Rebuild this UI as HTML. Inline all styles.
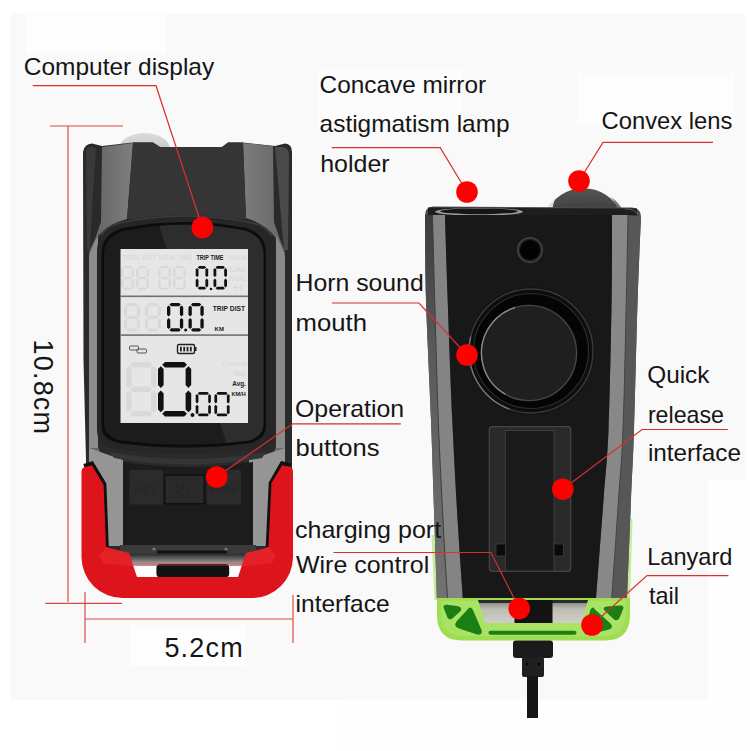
<!DOCTYPE html>
<html><head><meta charset="utf-8">
<style>
html,body{margin:0;padding:0;background:#fafafa;width:750px;height:751px;overflow:hidden}
svg{position:absolute;left:0;top:0;display:block}
text{font-family:"Liberation Sans",sans-serif}
</style></head>
<body>
<svg width="750" height="751" viewBox="0 0 750 751">
<defs>
  <linearGradient id="gpanel" x1="0" y1="0" x2="1" y2="0">
    <stop offset="0" stop-color="#626262"/><stop offset="1" stop-color="#7e7e7e"/>
  </linearGradient>
  <linearGradient id="gpanel2" x1="0" y1="0" x2="1" y2="0">
    <stop offset="0" stop-color="#7c7c7c"/><stop offset="1" stop-color="#666"/>
  </linearGradient>
  <linearGradient id="gmetal" x1="0" y1="0" x2="0" y2="1">
    <stop offset="0" stop-color="#2a2a2a"/><stop offset="1" stop-color="#bbbbbb"/>
  </linearGradient>
  <linearGradient id="gside" x1="0" y1="0" x2="1" y2="0">
    <stop offset="0" stop-color="#6e6e6e"/><stop offset="1" stop-color="#8a8a8a"/>
  </linearGradient>
  <linearGradient id="gside2" x1="0" y1="0" x2="1" y2="0">
    <stop offset="0" stop-color="#8c8c8c"/><stop offset="1" stop-color="#7a7a7a"/>
  </linearGradient>
  <linearGradient id="gouterL" x1="0" y1="0" x2="0" y2="1">
    <stop offset="0" stop-color="#3c3c3c"/><stop offset="0.35" stop-color="#5a5a5a"/><stop offset="1" stop-color="#727272"/>
  </linearGradient>
  <linearGradient id="gdome2" x1="0" y1="0" x2="0" y2="1">
    <stop offset="0" stop-color="#555"/><stop offset="1" stop-color="#3e3e3e"/>
  </linearGradient>
  <linearGradient id="grecess" x1="0" y1="0" x2="0" y2="1">
    <stop offset="0" stop-color="#7a7a74"/><stop offset="0.4" stop-color="#bdbdb5"/><stop offset="1" stop-color="#cfcfc8"/>
  </linearGradient>
  <linearGradient id="gdome" x1="0" y1="0" x2="0" y2="1">
    <stop offset="0" stop-color="#dcdcdc"/><stop offset="0.6" stop-color="#c4c4c4"/><stop offset="1" stop-color="#a0a0a0"/>
  </linearGradient>
  <linearGradient id="gred" x1="0" y1="0" x2="0" y2="1">
    <stop offset="0" stop-color="#e0202a"/><stop offset="1" stop-color="#d61a22"/>
  </linearGradient>
</defs>
<!-- background -->
<rect x="0" y="0" width="750" height="751" fill="#ffffff"/>
<rect x="10" y="13" width="735" height="687" fill="#f9f9f9"/>
<rect x="340" y="700" width="410" height="51" fill="#fefefe"/>
<rect x="708" y="480" width="42" height="235" fill="#fefefe"/>
<rect x="26" y="13" width="140" height="40" fill="#fdfdfd"/>
<rect x="318" y="70" width="144" height="57" fill="#fcfcfc"/>
<rect x="577" y="73" width="158" height="52" fill="#fdfdfd"/>
<rect x="130" y="625" width="115" height="41" fill="#fdfdfd"/>

<!-- ============ LEFT DEVICE ============ -->
<!-- dome behind -->
<ellipse cx="144.5" cy="150" rx="26" ry="17" fill="url(#gdome)"/>

<!-- body -->
<path d="M83,152 Q84,144 92,143.5 L102,146 L133,142.6 L153,142.6 L160,147 L222,147 L228,142.6 L243,142.6 L275,146 L285,143.5 Q292,144 292,152 L292,560 L86,560 L86,460 L83.5,360 Z" fill="#2a2a2a"/>
<path d="M275,147 L283,147 Q289,148 289,156 L288,250 L284,250 Z" fill="#4a4a4a"/>
<path d="M86,150 Q87,147 92,147 L96,148 Q92,200 90,250 L87,250 Z" fill="#3a3a3a"/>
<!-- left gray panel -->
<path d="M102,147 L133,143 L127,219 Q108,224 98,236 L98,445 Q98,452 104,455 L123,462 L123,546 L89,546 L89,252 Q96,238 101,222 Z" fill="url(#gpanel)"/>
<!-- right gray panel -->
<path d="M243,143 L273,146 L274,222 Q279,238 285,252 L285,546 L249,546 L249,462 L270,455 Q276,452 276,445 L276,238 Q266,224 246,218 Z" fill="url(#gpanel2)"/>
<path d="M89,448 L123,460 L123,546 L89,546 Z" fill="#959595"/>
<path d="M285,448 L249,460 L249,546 L285,546 Z" fill="#959595"/>
<path d="M89,256 Q93,244 98,236 L98,448 L89,448 Z" fill="#8c8c8c"/>
<path d="M285,256 Q281,244 276,236 L276,448 L285,448 Z" fill="#8a8a8a"/>
<!-- center top -->
<path d="M133,142.6 L153,142.6 L160,147 L222,147 L228,142.6 L243,142.6 L246,219 L127,219 Z" fill="#353535"/>
<!-- bezel -->
<path d="M97,252 Q97,228 120,222 Q186,208 252,222 Q276,228 276,252 L276,430 Q276,445 258,449 Q186,459 115,449 Q97,445 97,430 Z" fill="#262626"/>
<path d="M101,236 Q106,226 120,223 Q186,209 252,223 Q266,226 272,236" fill="none" stroke="#3c3c3c" stroke-width="1.5"/>
<path d="M101.5,254 Q101.5,234 123,228 Q186,216 246,228 Q266,234 266,254 L266,426 Q266,439 250,443 Q186,452 118,443 Q101.5,439 101.5,426 Z" fill="#0c0c0c"/>
<clipPath id="cframe"><path d="M104,255 Q104,236 125,230.5 Q186,219 245,230.5 Q263.5,236 263.5,255 L263.5,424 Q263.5,436 249,440.5 Q186,449 120,440.5 Q104,436 104,424 Z"/></clipPath>
<g clip-path="url(#cframe)">
<rect x="100" y="215" width="180" height="240" fill="#1c1c1c"/>
<path d="M156,215 L290,215 L290,455 L230,455 Z" fill="#2d2d2d"/>
</g>
<!-- ledge below bezel -->
<path d="M110,452 Q188,466 266,452 L262,458 Q188,471 114,458 Z" fill="#353535"/>
<!-- lower body -->
<path d="M123,462 Q188,472 253,462 L253,546 L123,546 Z" fill="#1c1c1c"/>
<!-- buttons -->
<rect x="129.3" y="470" width="33.7" height="34.5" rx="1.5" fill="#2b2b2b"/>
<rect x="163.9" y="474.6" width="41.1" height="30" rx="1.5" fill="#111"/>
<rect x="165.4" y="476.1" width="38.1" height="27" rx="1" fill="#2a2a2a"/>
<rect x="206.8" y="470" width="34.5" height="34.5" rx="1.5" fill="#2b2b2b"/>
<g font-family="Liberation Sans" font-weight="bold" font-size="9" fill="#262626">
<text x="134" y="493" textLength="23" lengthAdjust="spacingAndGlyphs">SET</text>
<text x="210" y="493" textLength="28" lengthAdjust="spacingAndGlyphs">MODE</text>
</g>
<path d="M178.5,485 A6,6 0 1 0 186.5,485" fill="none" stroke="#262626" stroke-width="1.5"/>
<line x1="182.5" y1="482" x2="182.5" y2="489" stroke="#262626" stroke-width="1.5"/>
<!-- bottom connector -->
<rect x="120" y="545" width="136" height="9" fill="#3a3a3a"/>
<rect x="157" y="550.5" width="70" height="3" fill="#111"/>
<circle cx="154" cy="549" r="1.6" fill="#777"/><circle cx="226" cy="549" r="1.6" fill="#777"/>
<path d="M126,554 L248,554 L241,578 L134,578 Z" fill="#fdfdfd"/>
<path d="M126,554 L248,554 L246,566 L130,566 Z" fill="url(#gmetal)"/>
<rect x="156.4" y="564" width="72.8" height="13.5" rx="4" fill="#121212"/>

<!-- LCD -->
<rect x="120.5" y="249" width="127.5" height="174" fill="#e6e6e6"/>
<rect x="120.5" y="295.5" width="127.5" height="1.6" fill="#707070"/>
<rect x="120.5" y="334.3" width="127.5" height="1.6" fill="#707070"/>
<g font-family="Liberation Sans" font-weight="bold" fill="#222">
<text x="196.5" y="259.5" font-size="7" textLength="27" lengthAdjust="spacingAndGlyphs">TRIP TIME</text>
<text x="212.7" y="311" font-size="7" textLength="32.5" lengthAdjust="spacingAndGlyphs">TRIP DIST</text>
<text x="214.5" y="330.5" font-size="6" textLength="9.5" lengthAdjust="spacingAndGlyphs">KM</text>
<text x="232.3" y="386" font-size="7" textLength="13.5" lengthAdjust="spacingAndGlyphs">Avg.</text>
<text x="231.4" y="396" font-size="5" textLength="14.3" lengthAdjust="spacingAndGlyphs">KM/H</text>
</g>
<g font-family="Liberation Sans" font-weight="bold" fill="#dadada">
<text x="122" y="259.5" font-size="6.5" textLength="70" lengthAdjust="spacingAndGlyphs">TOTAL DIST  TOTAL TIME</text>
<text x="228" y="259.5" font-size="6.5" textLength="19" lengthAdjust="spacingAndGlyphs">CLOCK</text>
<text x="229" y="272" font-size="6.5" textLength="18" lengthAdjust="spacingAndGlyphs">CAL</text>
<text x="229" y="281" font-size="6.5" textLength="18" lengthAdjust="spacingAndGlyphs">KCAL</text>
<text x="233" y="290" font-size="6.5" textLength="10" lengthAdjust="spacingAndGlyphs">H</text>
<text x="222" y="366" font-size="7" textLength="25" lengthAdjust="spacingAndGlyphs">Current</text>
<text x="233" y="376" font-size="7" textLength="13" lengthAdjust="spacingAndGlyphs">Max</text>
</g>
<g fill="#d9d9d9"><polygon points="123.0,267.3 124.2,266.0 130.7,266.0 132.0,267.3 130.7,268.6 124.2,268.6"/><polygon points="132.7,267.9 134.0,269.2 134.0,276.1 132.7,277.4 131.4,276.1 131.4,269.2"/><polygon points="132.7,278.6 134.0,279.9 134.0,286.8 132.7,288.1 131.4,286.8 131.4,279.9"/><polygon points="123.0,288.7 124.2,287.4 130.7,287.4 132.0,288.7 130.7,290.0 124.2,290.0"/><polygon points="122.3,278.6 123.6,279.9 123.6,286.8 122.3,288.1 121.0,286.8 121.0,279.9"/><polygon points="122.3,267.9 123.6,269.2 123.6,276.1 122.3,277.4 121.0,276.1 121.0,269.2"/><polygon points="123.0,278.0 124.2,276.7 130.7,276.7 132.0,278.0 130.7,279.3 124.2,279.3"/></g>
<g fill="#d9d9d9"><polygon points="138.0,267.3 139.3,266.0 145.7,266.0 147.0,267.3 145.7,268.6 139.3,268.6"/><polygon points="147.7,267.9 149.0,269.2 149.0,276.1 147.7,277.4 146.4,276.1 146.4,269.2"/><polygon points="147.7,278.6 149.0,279.9 149.0,286.8 147.7,288.1 146.4,286.8 146.4,279.9"/><polygon points="138.0,288.7 139.3,287.4 145.7,287.4 147.0,288.7 145.7,290.0 139.3,290.0"/><polygon points="137.3,278.6 138.6,279.9 138.6,286.8 137.3,288.1 136.0,286.8 136.0,279.9"/><polygon points="137.3,267.9 138.6,269.2 138.6,276.1 137.3,277.4 136.0,276.1 136.0,269.2"/><polygon points="138.0,278.0 139.3,276.7 145.7,276.7 147.0,278.0 145.7,279.3 139.3,279.3"/></g>
<g fill="#d9d9d9"><polygon points="160.0,267.3 161.3,266.0 167.7,266.0 169.0,267.3 167.7,268.6 161.3,268.6"/><polygon points="169.7,267.9 171.0,269.2 171.0,276.1 169.7,277.4 168.4,276.1 168.4,269.2"/><polygon points="169.7,278.6 171.0,279.9 171.0,286.8 169.7,288.1 168.4,286.8 168.4,279.9"/><polygon points="160.0,288.7 161.3,287.4 167.7,287.4 169.0,288.7 167.7,290.0 161.3,290.0"/><polygon points="159.3,278.6 160.6,279.9 160.6,286.8 159.3,288.1 158.0,286.8 158.0,279.9"/><polygon points="159.3,267.9 160.6,269.2 160.6,276.1 159.3,277.4 158.0,276.1 158.0,269.2"/><polygon points="160.0,278.0 161.3,276.7 167.7,276.7 169.0,278.0 167.7,279.3 161.3,279.3"/></g>
<g fill="#d9d9d9"><polygon points="175.0,267.3 176.3,266.0 182.7,266.0 184.0,267.3 182.7,268.6 176.3,268.6"/><polygon points="184.7,267.9 186.0,269.2 186.0,276.1 184.7,277.4 183.4,276.1 183.4,269.2"/><polygon points="184.7,278.6 186.0,279.9 186.0,286.8 184.7,288.1 183.4,286.8 183.4,279.9"/><polygon points="175.0,288.7 176.3,287.4 182.7,287.4 184.0,288.7 182.7,290.0 176.3,290.0"/><polygon points="174.3,278.6 175.6,279.9 175.6,286.8 174.3,288.1 173.0,286.8 173.0,279.9"/><polygon points="174.3,267.9 175.6,269.2 175.6,276.1 174.3,277.4 173.0,276.1 173.0,269.2"/><polygon points="175.0,278.0 176.3,276.7 182.7,276.7 184.0,278.0 182.7,279.3 176.3,279.3"/></g>
<g fill="#111"><polygon points="197.8,267.4 199.2,266.0 204.7,266.0 206.1,267.4 204.7,268.8 199.2,268.8"/><polygon points="206.8,268.1 208.2,269.5 208.2,275.7 206.8,277.1 205.4,275.7 205.4,269.5"/><polygon points="206.8,278.5 208.2,279.9 208.2,286.1 206.8,287.5 205.4,286.1 205.4,279.9"/><polygon points="197.8,288.2 199.2,286.8 204.7,286.8 206.1,288.2 204.7,289.6 199.2,289.6"/><polygon points="197.1,278.5 198.5,279.9 198.5,286.1 197.1,287.5 195.7,286.1 195.7,279.9"/><polygon points="197.1,268.1 198.5,269.5 198.5,275.7 197.1,277.1 195.7,275.7 195.7,269.5"/></g>
<g fill="#111"><polygon points="215.6,267.4 217.0,266.0 223.5,266.0 224.9,267.4 223.5,268.8 217.0,268.8"/><polygon points="225.6,268.1 227.0,269.5 227.0,275.7 225.6,277.1 224.2,275.7 224.2,269.5"/><polygon points="225.6,278.5 227.0,279.9 227.0,286.1 225.6,287.5 224.2,286.1 224.2,279.9"/><polygon points="215.6,288.2 217.0,286.8 223.5,286.8 224.9,288.2 223.5,289.6 217.0,289.6"/><polygon points="214.9,278.5 216.3,279.9 216.3,286.1 214.9,287.5 213.5,286.1 213.5,279.9"/><polygon points="214.9,268.1 216.3,269.5 216.3,275.7 214.9,277.1 213.5,275.7 213.5,269.5"/></g>
<circle cx="211" cy="289" r="1.3" fill="#111"/>
<g fill="#d9d9d9"><polygon points="126.4,304.6 128.0,303.0 136.0,303.0 137.6,304.6 136.0,306.2 128.0,306.2"/><polygon points="138.4,305.4 140.0,307.0 140.0,314.9 138.4,316.5 136.8,314.9 136.8,307.0"/><polygon points="138.4,318.1 140.0,319.7 140.0,327.6 138.4,329.2 136.8,327.6 136.8,319.7"/><polygon points="126.4,330.0 128.0,328.4 136.0,328.4 137.6,330.0 136.0,331.6 128.0,331.6"/><polygon points="125.6,318.1 127.2,319.7 127.2,327.6 125.6,329.2 124.0,327.6 124.0,319.7"/><polygon points="125.6,305.4 127.2,307.0 127.2,314.9 125.6,316.5 124.0,314.9 124.0,307.0"/><polygon points="126.4,317.3 128.0,315.7 136.0,315.7 137.6,317.3 136.0,318.9 128.0,318.9"/></g>
<g fill="#d9d9d9"><polygon points="147.4,304.6 149.0,303.0 157.0,303.0 158.6,304.6 157.0,306.2 149.0,306.2"/><polygon points="159.4,305.4 161.0,307.0 161.0,314.9 159.4,316.5 157.8,314.9 157.8,307.0"/><polygon points="159.4,318.1 161.0,319.7 161.0,327.6 159.4,329.2 157.8,327.6 157.8,319.7"/><polygon points="147.4,330.0 149.0,328.4 157.0,328.4 158.6,330.0 157.0,331.6 149.0,331.6"/><polygon points="146.6,318.1 148.2,319.7 148.2,327.6 146.6,329.2 145.0,327.6 145.0,319.7"/><polygon points="146.6,305.4 148.2,307.0 148.2,314.9 146.6,316.5 145.0,314.9 145.0,307.0"/><polygon points="147.4,317.3 149.0,315.7 157.0,315.7 158.6,317.3 157.0,318.9 149.0,318.9"/></g>
<g fill="#111"><polygon points="169.5,304.6 171.1,303.0 179.1,303.0 180.7,304.6 179.1,306.3 171.1,306.3"/><polygon points="181.5,305.5 183.2,307.1 183.2,314.8 181.5,316.5 179.9,314.8 179.9,307.1"/><polygon points="181.5,318.1 183.2,319.8 183.2,327.5 181.5,329.1 179.9,327.5 179.9,319.8"/><polygon points="169.5,330.0 171.1,328.3 179.1,328.3 180.7,330.0 179.1,331.6 171.1,331.6"/><polygon points="168.7,318.1 170.3,319.8 170.3,327.5 168.7,329.1 167.0,327.5 167.0,319.8"/><polygon points="168.7,305.5 170.3,307.1 170.3,314.8 168.7,316.5 167.0,314.8 167.0,307.1"/></g>
<g fill="#111"><polygon points="191.0,304.6 192.6,303.0 199.6,303.0 201.2,304.6 199.6,306.3 192.6,306.3"/><polygon points="202.0,305.5 203.7,307.1 203.7,314.8 202.0,316.5 200.4,314.8 200.4,307.1"/><polygon points="202.0,318.1 203.7,319.8 203.7,327.5 202.0,329.1 200.4,327.5 200.4,319.8"/><polygon points="191.0,330.0 192.6,328.3 199.6,328.3 201.2,330.0 199.6,331.6 192.6,331.6"/><polygon points="190.2,318.1 191.8,319.8 191.8,327.5 190.2,329.1 188.5,327.5 188.5,319.8"/><polygon points="190.2,305.5 191.8,307.1 191.8,314.8 190.2,316.5 188.5,314.8 188.5,307.1"/></g>
<circle cx="185.7" cy="330" r="1.5" fill="#111"/>
<g fill="#d9d9d9"><polygon points="130.0,364.7 132.7,362.0 149.7,362.0 152.4,364.7 149.7,367.4 132.7,367.4"/><polygon points="153.7,366.1 156.4,368.8 156.4,385.2 153.7,387.9 151.0,385.2 151.0,368.8"/><polygon points="153.7,390.6 156.4,393.3 156.4,409.8 153.7,412.4 151.0,409.8 151.0,393.3"/><polygon points="130.0,413.8 132.7,411.1 149.7,411.1 152.4,413.8 149.7,416.5 132.7,416.5"/><polygon points="128.7,390.6 131.4,393.3 131.4,409.8 128.7,412.4 126.0,409.8 126.0,393.3"/><polygon points="128.7,366.1 131.4,368.8 131.4,385.2 128.7,387.9 126.0,385.2 126.0,368.8"/><polygon points="130.0,389.2 132.7,386.6 149.7,386.6 152.4,389.2 149.7,391.9 132.7,391.9"/></g>
<g fill="#111"><polygon points="162.2,364.8 165.0,362.0 184.2,362.0 187.0,364.8 184.2,367.6 165.0,367.6"/><polygon points="188.4,366.2 191.2,369.0 191.2,385.1 188.4,387.9 185.6,385.1 185.6,369.0"/><polygon points="188.4,390.6 191.2,393.4 191.2,409.5 188.4,412.3 185.6,409.5 185.6,393.4"/><polygon points="162.2,413.7 165.0,410.9 184.2,410.9 187.0,413.7 184.2,416.5 165.0,416.5"/><polygon points="160.8,390.6 163.6,393.4 163.6,409.5 160.8,412.3 158.0,409.5 158.0,393.4"/><polygon points="160.8,366.2 163.6,369.0 163.6,385.1 160.8,387.9 158.0,385.1 158.0,369.0"/></g>
<circle cx="192.5" cy="415" r="2" fill="#111"/>
<g fill="#111"><polygon points="197.7,393.4 199.1,392.0 207.5,392.0 208.9,393.4 207.5,394.7 199.1,394.7"/><polygon points="209.5,394.0 210.9,395.4 210.9,402.1 209.5,403.5 208.2,402.1 208.2,395.4"/><polygon points="209.5,404.8 210.9,406.2 210.9,412.9 209.5,414.3 208.2,412.9 208.2,406.2"/><polygon points="197.7,414.9 199.1,413.6 207.5,413.6 208.9,414.9 207.5,416.3 199.1,416.3"/><polygon points="197.0,404.8 198.4,406.2 198.4,412.9 197.0,414.3 195.7,412.9 195.7,406.2"/><polygon points="197.0,394.0 198.4,395.4 198.4,402.1 197.0,403.5 195.7,402.1 195.7,395.4"/></g>
<g fill="#111"><polygon points="216.4,393.4 217.8,392.0 226.2,392.0 227.6,393.4 226.2,394.7 217.8,394.7"/><polygon points="228.2,394.0 229.6,395.4 229.6,402.1 228.2,403.5 226.9,402.1 226.9,395.4"/><polygon points="228.2,404.8 229.6,406.2 229.6,412.9 228.2,414.3 226.9,412.9 226.9,406.2"/><polygon points="216.4,414.9 217.8,413.6 226.2,413.6 227.6,414.9 226.2,416.3 217.8,416.3"/><polygon points="215.8,404.8 217.1,406.2 217.1,412.9 215.8,414.3 214.4,412.9 214.4,406.2"/><polygon points="215.8,394.0 217.1,395.4 217.1,402.1 215.8,403.5 214.4,402.1 214.4,395.4"/></g>

<!-- battery -->
<rect x="177.5" y="344.5" width="17" height="9" rx="1.5" fill="none" stroke="#222" stroke-width="1.4"/>
<rect x="194.5" y="347" width="2" height="4" fill="#222"/>
<g fill="#222"><rect x="180" y="346.8" width="1.8" height="4.6"/><rect x="183.3" y="346.8" width="1.8" height="4.6"/><rect x="186.6" y="346.8" width="1.8" height="4.6"/><rect x="189.9" y="346.8" width="1.8" height="4.6"/></g>
<!-- chain -->
<rect x="129.5" y="346" width="9" height="4" rx="1" fill="none" stroke="#555" stroke-width="1"/>
<rect x="137" y="349" width="9.5" height="4" rx="1" fill="none" stroke="#555" stroke-width="1"/>

<!-- red bracket -->
<polyline points="84,466 92,463.4 104.4,484 106.8,547" stroke="#111" stroke-width="4" fill="none"/>
<polyline points="291,465.5 282,463.4 270.7,483 267.7,547" stroke="#111" stroke-width="4" fill="none"/>
<path d="M81.5,472 Q81.5,467 86,466.8 L92,465.6 L103.6,485 L106,547 L113,549 L129,553 L137,577 L238,577 L246,553 L262,549 L268.5,547 L271.5,483 L282,465.6 L289,466.5 Q293,467 293,472 L293,557 A41,41 0 0 1 252,598 L123,598 A41,41 0 0 1 81.5,557 Z" fill="#de141c"/>
<path d="M106,547 L113,549 L129,553 L133,563 L242,563 L246,553 L262,549 L269,547 L276,556 L272,563 L250,566 L125,566 L103,563 L99,556 Z" fill="#f2383c" opacity="0.35"/>

<!-- ============ RIGHT DEVICE ============ -->
<!-- dome -->
<path d="M546,212 A41.5,41.5 0 0 1 621,212 Z" fill="url(#gdome2)"/>
<path d="M546,212 Q549,203 556,197.5 Q552,205 552.5,212 Z" fill="#e0e0e0"/>
<path d="M611,197 C618,202 622,207 623,213 L619,213 C618,207 615,202 611,197 Z" fill="#777"/>
<!-- green side strips -->
<path d="M431.5,535 L434.5,535 L437.5,600 L434.5,600 Z" fill="#c4ec9a"/>
<path d="M629.5,519 L632.5,519 L630,600 L627,600 Z" fill="#c4ec9a"/>
<!-- body outer rim -->
<path d="M425,215 Q425,207 433,206.5 L632,207.5 Q641,208 641,217 C640.4,230.8 638.8,264.5 637.6,300.0 C636.4,335.5 635.1,396.7 634.0,430.0 C632.9,463.3 632.2,471.7 631.0,500.0 C629.8,528.3 627.7,583.3 627.0,600.0 L437,600 C436.6,586.7 435.3,550.0 434.3,520.0 C433.3,490.0 432.4,456.7 431.0,420.0 C429.6,383.3 427.0,334.2 426.0,300.0 C425.0,265.8 425.2,229.2 425.0,215.0 Z" fill="#4e4e4e"/>
<!-- top rim -->
<path d="M428,207.5 L637,208.5 L637,215.5 L428,215.5 Z" fill="#1e1e1e"/>
<ellipse cx="479" cy="211.8" rx="44" ry="3.9" fill="#9c9c9c"/>
<ellipse cx="479" cy="211.3" rx="39" ry="2.9" fill="#161616"/>
<path d="M625,209 Q636,209 637,214" fill="none" stroke="#5a5a5a" stroke-width="1"/>
<!-- dark outer bands -->
<path d="M425,215 C425.2,229.2 425.0,265.8 426.0,300.0 C427.0,334.2 429.6,383.3 431.0,420.0 C432.4,456.7 433.3,490.0 434.3,520.0 C435.3,550.0 436.6,586.7 437.0,600.0 L447.5,600 C446.8,586.7 444.5,550.0 443.0,520.0 C441.5,490.0 439.7,456.7 438.3,420.0 C436.9,383.3 435.7,334.2 434.7,300.0 C433.7,265.8 432.9,229.2 432.5,215.0 Z" fill="url(#gouterL)"/>
<path d="M628,215 C627.7,229.2 627.1,264.2 626.3,300.0 C625.5,335.8 624.3,396.7 623.0,430.0 C621.7,463.3 620.4,471.7 618.5,500.0 C616.6,528.3 612.8,583.3 611.6,600.0 L627,600 C627.7,583.3 629.8,528.3 631.0,500.0 C632.2,471.7 632.9,463.3 634.0,430.0 C635.1,396.7 636.4,335.5 637.6,300.0 C638.8,264.5 640.4,230.8 641.0,217.0 Z" fill="#575757"/>
<!-- light bands -->
<path d="M432.5,215 C432.9,229.2 433.7,265.8 434.7,300.0 C435.7,334.2 436.9,383.3 438.3,420.0 C439.7,456.7 441.5,490.0 443.0,520.0 C444.5,550.0 446.8,586.7 447.5,600.0 L463,600 C462.1,586.7 459.4,550.0 457.6,520.0 C455.8,490.0 454.0,456.7 452.3,420.0 C450.6,383.3 448.9,334.2 447.7,300.0 C446.5,265.8 445.4,229.2 445.0,215.0 Z" fill="#848484"/>
<path d="M612,215 C611.9,229.2 612.2,264.2 611.6,300.0 C611.0,335.8 609.9,396.7 608.5,430.0 C607.1,463.3 605.6,471.7 603.5,500.0 C601.4,528.3 597.2,583.3 596.0,600.0 L611.6,600 C612.8,583.3 616.6,528.3 618.5,500.0 C620.4,471.7 621.7,463.3 623.0,430.0 C624.3,396.7 625.5,335.8 626.3,300.0 C627.1,264.2 627.7,229.2 628.0,215.0 Z" fill="#888888"/>
<path d="M432.5,215 C432.9,229.2 433.7,265.8 434.7,300.0 C435.7,334.2 436.9,383.3 438.3,420.0 C439.7,456.7 441.5,490.0 443.0,520.0 C444.5,550.0 446.8,586.7 447.5,600.0" fill="none" stroke="#3e3e3e" stroke-width="1"/>
<path d="M628,215 C627.7,229.2 627.1,264.2 626.3,300.0 C625.5,335.8 624.3,396.7 623.0,430.0 C621.7,463.3 620.4,471.7 618.5,500.0 C616.6,528.3 612.8,583.3 611.6,600.0" fill="none" stroke="#444" stroke-width="1"/>
<!-- black face -->
<path d="M445,215 C445.4,229.2 446.5,265.8 447.7,300.0 C448.9,334.2 450.6,383.3 452.3,420.0 C454.0,456.7 455.8,490.0 457.6,520.0 C459.4,550.0 462.1,586.7 463.0,600.0 L596,600 C597.2,583.3 601.4,528.3 603.5,500.0 C605.6,471.7 607.1,463.3 608.5,430.0 C609.9,396.7 611.0,335.8 611.6,300.0 C612.2,264.2 611.9,229.2 612.0,215.0 Z" fill="#181818"/>
<!-- hole -->
<circle cx="530" cy="250" r="13" fill="#444"/>
<circle cx="530" cy="250" r="11.5" fill="#222"/>
<circle cx="530" cy="250" r="10" fill="#030303"/>
<!-- horn -->
<circle cx="531" cy="351" r="63.5" fill="#0e0e0e"/>
<circle cx="531" cy="351" r="62" fill="none" stroke="#3a3a3a" stroke-width="1.5"/>
<circle cx="531" cy="351" r="62" fill="none" stroke="#777" stroke-width="1.3" stroke-dasharray="90 400" transform="rotate(110 531 351)"/>
<circle cx="531" cy="351" r="58.5" fill="#050505"/>
<circle cx="531" cy="351" r="57.5" fill="none" stroke="#2e2e2e" stroke-width="1.2"/>
<circle cx="529" cy="353" r="48.5" fill="#1f1f1f"/>
<circle cx="529" cy="353" r="47.5" fill="none" stroke="#4a4a4a" stroke-width="1.2"/>
<circle cx="529" cy="353" r="47.5" fill="none" stroke="#8a8a8a" stroke-width="1.3" stroke-dasharray="110 400" transform="rotate(120 529 353)"/>
<!-- quick release bracket -->
<rect x="489.3" y="426.7" width="81.4" height="144.6" rx="3" fill="#2a2a2a" stroke="#464646" stroke-width="1.2"/>
<rect x="505.3" y="430.5" width="48.7" height="140.5" fill="#1b1b1b" stroke="#3c3c3c" stroke-width="1"/>
<rect x="496" y="544" width="9.5" height="12" fill="#0a0a0a" stroke="#3c3c3c" stroke-width="0.8"/>
<rect x="554" y="544" width="9.5" height="12" fill="#0a0a0a" stroke="#3c3c3c" stroke-width="0.8"/>
<!-- green base -->
<path d="M437,598 L630,598 L630,615 Q630,640.5 605,640.5 L462,640.5 Q437,640.5 437,615 Z" fill="#9ede50"/>
<path d="M441,601 L626,601 L626,612 Q626,636 604,636 L463,636 Q441,636 441,612 Z" fill="#c4ee94" opacity="0.3"/>
<!-- recess -->
<path d="M478,600 L588,600 L581,623 L485,623 Z" fill="url(#grecess)"/>
<path d="M478,600 L588,600 L587,603 L479,603 Z" fill="#2a2a2a"/>
<rect x="514.5" y="600" width="38" height="23" fill="#131313"/>
<!-- dark green cutouts -->
<g fill="#1b7f16">
<path d="M443.5,607.5 Q443,604.5 447,604.8 L457,606 Q463,607 460.5,611 L453,618 Q449.5,621 447.5,617.5 Z"/>
<path d="M467.5,609.5 Q470,605.5 473,610 L481.5,630 Q483,635.5 477,634.5 L459,628.5 Q453,626.5 456.5,621.5 Z"/>
<path d="M623.5,608 Q623.5,605 620,605.5 L607,606.5 Q602,607 604.5,610.5 L613.5,619 Q617,622 619.5,618 Z"/>
<path d="M595,609.5 Q593,605.5 590.5,609.5 L584.5,630.5 Q583.5,635.5 589,634.5 L609,629.5 Q614,627.5 610.5,623.5 Z"/>
</g>
<rect x="488.5" y="630.8" width="88" height="4" rx="2" fill="#1b7f16"/>
<!-- cable -->
<rect x="513" y="640.5" width="40" height="17.5" rx="3" fill="#1a1a1a"/>
<rect x="522" y="657" width="22" height="20" rx="2" fill="#1f1f1f"/>
<circle cx="527" cy="664" r="1.2" fill="#000"/>
<circle cx="539" cy="664" r="1.2" fill="#000"/>
<rect x="527" y="676" width="11" height="42" fill="#161616"/>

<!-- ============ MEASUREMENT LINES ============ -->
<g stroke="#d94848" stroke-width="1.2" fill="none">
  <line x1="50" y1="126" x2="123" y2="126"/>
  <line x1="68" y1="126" x2="68" y2="602"/>
  <line x1="45.3" y1="603.3" x2="122" y2="603.3"/>
  <line x1="85" y1="619" x2="293" y2="619"/>
  <line x1="85" y1="592" x2="85" y2="643"/>
  <line x1="293" y1="595" x2="293" y2="643"/>
</g>

<!-- ============ LEADER LINES ============ -->
<g stroke="#d83030" stroke-width="1.2" fill="none">
  <polyline points="32.8,85.7 156,85.7 202.4,227.5"/>
  <polyline points="331.8,147.6 440.2,147.6 467,192"/>
  <polyline points="713,142.4 603,142.4 579,181"/>
  <polyline points="332,303 419,303 467,355"/>
  <polyline points="400.8,423.8 292.8,423.8 216.7,477"/>
  <polyline points="333.5,552.5 491,552.5 519.2,608.5"/>
  <polyline points="727.8,429.5 642,429.5 562.8,489.2"/>
  <polyline points="728.5,575.6 647,575.6 592,625"/>
</g>
<g fill="#ff0000">
  <circle cx="202.4" cy="227.5" r="10.8"/>
  <circle cx="467" cy="192" r="10.8"/>
  <circle cx="579" cy="181" r="10.8"/>
  <circle cx="467" cy="355" r="10.8"/>
  <circle cx="216.7" cy="477" r="10.8"/>
  <circle cx="519.2" cy="608.5" r="10.8"/>
  <circle cx="562.8" cy="489.2" r="10.8"/>
  <circle cx="592" cy="625" r="10.8"/>
</g>

<!-- ============ LABELS ============ -->
<g fill="#151515" font-size="24">
  <text x="23.8" y="75" textLength="190.4" lengthAdjust="spacingAndGlyphs">Computer display</text>
  <text x="319.6" y="93" textLength="166.5" lengthAdjust="spacingAndGlyphs">Concave mirror</text>
  <text x="319.6" y="132.2" textLength="190.0" lengthAdjust="spacingAndGlyphs">astigmatism lamp</text>
  <text x="320.2" y="172" textLength="69.4" lengthAdjust="spacingAndGlyphs">holder</text>
  <text x="601.6" y="129.4" textLength="130.8" lengthAdjust="spacingAndGlyphs">Convex lens</text>
  <text x="295.5" y="290.6" textLength="128.2" lengthAdjust="spacingAndGlyphs">Horn sound</text>
  <text x="295.6" y="330.8" textLength="71.4" lengthAdjust="spacingAndGlyphs">mouth</text>
  <text x="295.0" y="416.6" textLength="109.2" lengthAdjust="spacingAndGlyphs">Operation</text>
  <text x="295.6" y="455.7" textLength="83.9" lengthAdjust="spacingAndGlyphs">buttons</text>
  <text x="295.0" y="538" textLength="146.1" lengthAdjust="spacingAndGlyphs">charging port</text>
  <text x="296.0" y="573" textLength="133.2" lengthAdjust="spacingAndGlyphs">Wire control</text>
  <text x="295.6" y="612.3" textLength="94.0" lengthAdjust="spacingAndGlyphs">interface</text>
  <text x="647.2" y="382.7" textLength="62.3" lengthAdjust="spacingAndGlyphs">Quick</text>
  <text x="647.9" y="422.5" textLength="76.0" lengthAdjust="spacingAndGlyphs">release</text>
  <text x="647.9" y="460.6" textLength="93.1" lengthAdjust="spacingAndGlyphs">interface</text>
  <text x="647.2" y="564.6" textLength="85.2" lengthAdjust="spacingAndGlyphs">Lanyard</text>
  <text x="648.9" y="604.4" textLength="30.1" lengthAdjust="spacingAndGlyphs">tail</text>
</g>
<text x="164.4" y="657" font-size="27" letter-spacing="1.2" fill="#151515">5.2cm</text>
<text transform="translate(33.5,339.5) rotate(90)" x="0" y="0" font-size="27" letter-spacing="1.2" fill="#151515">10.8cm</text>
</svg>
</body></html>
